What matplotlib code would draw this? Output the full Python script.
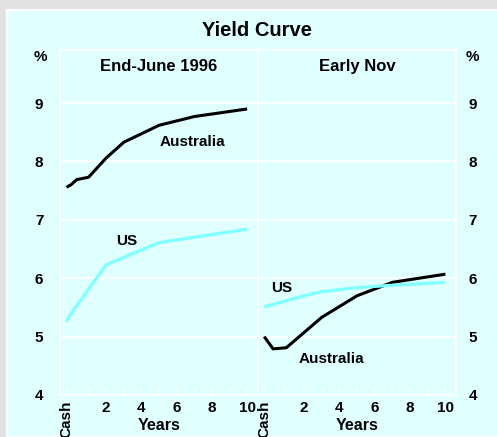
import matplotlib
matplotlib.use("Agg")
import matplotlib.pyplot as plt
from matplotlib.patches import Rectangle
from matplotlib.ticker import FixedLocator

plt.rcParams['font.family'] = ['Liberation Sans', 'DejaVu Sans']
plt.rcParams['font.weight'] = 'bold'

# ---- data ----
cash_pos = -0.25
xtick_vals = [cash_pos, 2, 4, 6, 8, 10]
xtick_labels = ["Cash", "2", "4", "6", "8", "10"]
yticks = [4, 5, 6, 7, 8, 9]

june_aus_x = [-0.25, 0.0, 0.33, 1, 2, 3, 5, 7, 10]
june_aus_y = [7.56, 7.60, 7.69, 7.73, 8.06, 8.33, 8.62, 8.77, 8.90]
june_us_x = [-0.25, 0.0, 2, 5, 10]
june_us_y = [5.26, 5.39, 6.23, 6.61, 6.84]

nov_aus_x = [-0.25, 0.25, 1, 3, 5, 7, 10]
nov_aus_y = [5.00, 4.79, 4.81, 5.33, 5.70, 5.93, 6.07]
nov_us_x = [-0.25, 2, 3, 5, 7, 10]
nov_us_y = [5.51, 5.70, 5.77, 5.84, 5.88, 5.93]

panel_titles = ["End-June 1996", "Early Nov"]

BG = "#e0ffff"
GRAY = "#e2e2e2"
CYAN = "#80ffff"
FS = 11

W, H = 497, 437
fig = plt.figure(figsize=(W / 100, H / 100), dpi=100, facecolor=GRAY)
fig.patches.append(Rectangle((7 / W, 0), 1, 1 - 10 / H, transform=fig.transFigure,
                             facecolor=BG, edgecolor="white", linewidth=1.5, zorder=-10))

bottom = 1 - 395 / H
height = (395 - 50) / H
ax1 = fig.add_axes([60 / W, bottom, (257.7 - 60) / W, height])
ax2 = fig.add_axes([257.7 / W, bottom, (456 - 257.7) / W, height])

series = [
    (ax1, june_aus_x, june_aus_y, june_us_x, june_us_y),
    (ax2, nov_aus_x, nov_aus_y, nov_us_x, nov_us_y),
]

for i, (ax, ax_x, ax_y, us_x, us_y) in enumerate(series):
    ax.set_facecolor(BG)
    ax.set_xlim(-0.62, 10.6)
    ax.set_ylim(4, 9.91)
    for s in ax.spines.values():
        s.set_color("white")
        s.set_linewidth(1.2)
    ax.set_yticks(yticks)
    ax.grid(axis="y", color="white", linewidth=1.2)
    ax.set_axisbelow(True)
    ax.plot(ax_x, ax_y, color="black", linewidth=2.2, solid_capstyle="butt", zorder=3)
    ax.plot(us_x, us_y, color=CYAN, linewidth=2.3, solid_capstyle="butt", zorder=3)
    ax.set_xticks(xtick_vals)
    ax.set_xticklabels(xtick_labels, fontsize=FS, fontweight="bold")
    ax.xaxis.set_minor_locator(FixedLocator([1, 3, 5, 7, 9]))
    ax.tick_params(axis="x", which="both", direction="in", length=5, color="white",
                   width=1.2, pad=4)
    lbl = ax.get_xticklabels()[0]
    lbl.set_rotation(90)
    lbl.set_va("top")
    ax.set_xlabel("Years", fontsize=FS + 0.5, fontweight="bold")
    ax.xaxis.set_label_coords(0.5, -0.068)
    ax.text(0.5, 0.951, panel_titles[i], transform=ax.transAxes, ha="center",
            va="center", fontsize=12, fontweight="bold")
    if i == 0:
        ax.yaxis.tick_left()
        ax.tick_params(axis="y", length=0, pad=12, labelsize=FS)
    else:
        ax.yaxis.tick_right()
        ax.tick_params(axis="y", length=0, pad=9, labelsize=FS)
    ax.set_yticklabels([str(v) for v in yticks], fontweight="bold")

ax1.text(6.89, 8.34, "Australia", ha="center", va="center", fontsize=FS, fontweight="bold")
ax1.text(3.18, 6.63, "US", ha="center", va="center", fontsize=FS, fontweight="bold")
ax2.text(0.73, 5.83, "US", ha="center", va="center", fontsize=FS, fontweight="bold")
ax2.text(3.56, 4.61, "Australia", ha="center", va="center", fontsize=FS, fontweight="bold")

fig.text(256.7 / W, 1 - 30.7 / H, "Yield Curve", ha="center", va="center",
         fontsize=14.5, fontweight="bold")
fig.text(40 / W, 1 - 57 / H, "%", ha="center", va="center", fontsize=FS, fontweight="bold")
fig.text(472 / W, 1 - 57 / H, "%", ha="center", va="center", fontsize=FS, fontweight="bold")

fig.savefig("out.png", dpi=100, facecolor=GRAY)
